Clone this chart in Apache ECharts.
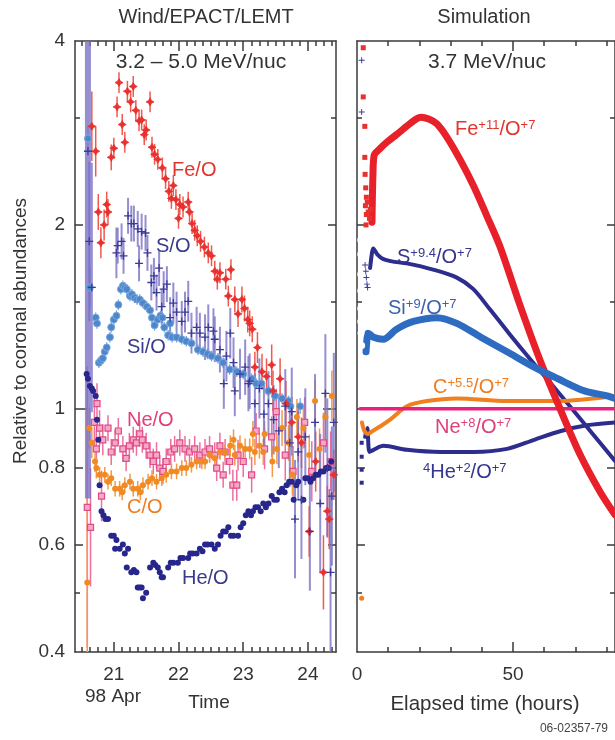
<!DOCTYPE html>
<html><head><meta charset="utf-8">
<script src="https://cdn.jsdelivr.net/npm/echarts@6/dist/echarts.min.js"></script>
<style>html,body{margin:0;padding:0;background:#fff}#c{width:615px;height:740px}</style>
</head><body><div id="c"></div>
<script>
// ---------- tick labels ----------
const leftDayTicks = [21, 22, 23, 24];
const rightHourLabels = [0, 50];
const rightHourMinor = [10, 20, 30, 40, 60, 70, 80];
const yLabelValues = [0.4, 0.6, 0.8, 1, 2, 4];
const yMidTicks = [0.6, 0.8, 2];
const yMinorTicks = [0.5, 1.5, 3];
const yLongTicks = [1];

// ---------- Wind/EPACT/LEMT data: [day of Apr 1998, ratio, relative error] ----------
const feO = [[20.66,2.90,0.14],[20.72,2.64,0.1],[20.76,2.10,0.07],[20.80,1.87,0.06],[20.85,2.00,0.06],[20.89,2.16,0.05],[20.91,2.10,0.05],[20.96,2.58,0.05],[21.00,2.67,0.04],[21.05,3.12,0.04],[21.08,3.42,0.04],[21.13,2.92,0.04],[21.17,2.73,0.04],[21.21,3.31,0.04],[21.26,3.18,0.04],[21.30,3.37,0.04],[21.34,3.08,0.04],[21.39,2.96,0.04],[21.43,2.97,0.04],[21.47,2.81,0.04],[21.50,2.86,0.04],[21.56,3.18,0.04],[21.59,2.68,0.04],[21.63,2.61,0.04],[21.68,2.56,0.04],[21.75,2.48,0.04],[21.80,2.38,0.04],[21.85,2.27,0.04],[21.89,2.21,0.04],[21.92,2.32,0.04],[21.96,2.20,0.04],[22.00,2.05,0.04],[22.02,2.16,0.04],[22.07,2.14,0.04],[22.15,2.18,0.04],[22.17,2.10,0.04],[22.21,2.01,0.04],[22.25,1.96,0.04],[22.29,1.92,0.04],[22.34,1.88,0.04],[22.40,1.84,0.04],[22.46,1.80,0.04],[22.51,1.78,0.04],[22.56,1.68,0.04],[22.60,1.63,0.04],[22.64,1.67,0.04],[22.73,1.63,0.04],[22.77,1.53,0.04],[22.81,1.69,0.04],[22.87,1.51,0.05],[22.92,1.43,0.05],[22.98,1.51,0.05],[23.02,1.46,0.05],[23.07,1.40,0.05],[23.10,1.38,0.05],[23.14,1.35,0.05],[23.18,1.17,0.06],[23.22,1.26,0.06],[23.29,1.15,0.07],[23.36,1.13,0.07],[23.44,1.18,0.08],[23.46,1.07,0.08],[23.57,1.12,0.08],[23.66,1.02,0.09],[23.75,0.95,0.1],[23.85,0.90,0.1],[23.90,0.88,0.1],[24.02,0.63,0.1],[24.12,0.82,0.12],[24.24,0.54,0.15],[24.30,0.68,0.1],[24.33,0.66,0.12],[24.40,0.78,0.1]];

const sO = [[20.60,2.64,2.7],[20.62,1.88,0.35],[20.66,1.58,0.6],[21.04,1.80,0.1],[21.06,1.85,0.07],[21.12,1.88,0.07],[21.15,1.78,0.07],[21.22,2.07,0.07],[21.27,2.01,0.07],[21.31,2.01,0.07],[21.37,1.97,0.07],[21.39,1.73,0.07],[21.43,1.95,0.07],[21.49,1.94,0.07],[21.52,1.80,0.07],[21.58,1.61,0.07],[21.62,1.65,0.07],[21.66,1.55,0.07],[21.70,1.70,0.07],[21.74,1.47,0.07],[21.77,1.57,0.07],[21.82,1.60,0.07],[21.87,1.41,0.08],[21.92,1.49,0.08],[21.97,1.44,0.08],[22.05,1.39,0.08],[22.10,1.44,0.08],[22.15,1.50,0.08],[22.20,1.33,0.08],[22.28,1.36,0.08],[22.33,1.33,0.08],[22.41,1.31,0.09],[22.46,1.36,0.09],[22.54,1.34,0.09],[22.56,1.30,0.09],[22.64,1.25,0.09],[22.70,1.10,0.1],[22.74,1.22,0.1],[22.80,1.33,0.1],[22.85,1.19,0.1],[22.87,1.07,0.1],[22.95,1.14,0.1],[23.03,1.17,0.11],[23.08,1.10,0.11],[23.10,1.11,0.11],[23.18,1.02,0.12],[23.25,1.08,0.12],[23.32,0.98,0.13],[23.39,1.02,0.13],[23.47,0.96,0.14],[23.55,0.92,0.15],[23.65,1.01,0.15],[23.72,0.88,0.18],[23.75,0.99,0.18],[23.80,0.66,0.25],[23.85,0.85,0.2],[23.90,0.71,0.25],[23.96,0.90,0.2],[24.03,0.63,0.25],[24.11,0.95,0.2],[24.19,0.70,0.3],[24.27,1.06,0.25],[24.30,0.80,0.3],[24.35,0.54,0.35],[24.37,0.72,0.3],[24.40,0.95,0.3]];

const siO = [[20.60,2.77,0.05],[20.63,1.58,0.08],[20.72,1.41,0.02],[20.74,1.38,0.02],[20.77,1.19,0.02],[20.80,1.20,0.02],[20.83,1.21,0.02],[20.86,1.24,0.02],[20.89,1.26,0.02],[20.94,1.31,0.02],[20.96,1.36,0.02],[21.00,1.40,0.02],[21.04,1.42,0.02],[21.07,1.48,0.02],[21.11,1.57,0.02],[21.14,1.59,0.02],[21.17,1.58,0.02],[21.20,1.57,0.02],[21.25,1.53,0.02],[21.28,1.54,0.02],[21.32,1.52,0.02],[21.36,1.51,0.02],[21.40,1.51,0.02],[21.45,1.49,0.02],[21.51,1.47,0.02],[21.56,1.45,0.02],[21.59,1.41,0.02],[21.63,1.37,0.02],[21.68,1.40,0.02],[21.72,1.42,0.02],[21.75,1.41,0.02],[21.78,1.36,0.02],[21.84,1.32,0.02],[21.87,1.38,0.02],[21.90,1.31,0.02],[21.97,1.31,0.02],[22.05,1.30,0.02],[22.12,1.29,0.02],[22.20,1.28,0.02],[22.30,1.25,0.02],[22.38,1.24,0.02],[22.45,1.23,0.02],[22.51,1.22,0.02],[22.61,1.21,0.02],[22.69,1.19,0.02],[22.79,1.16,0.02],[22.90,1.15,0.02],[23.00,1.14,0.02],[23.13,1.12,0.02],[23.20,1.10,0.02],[23.28,1.10,0.02],[23.39,1.07,0.02],[23.49,1.05,0.02],[23.60,1.04,0.02],[23.70,1.03,0.02],[23.73,1.01,0.02],[23.88,1.01,0.03]];

const neO = [[20.59,0.69,0.7],[20.64,0.64,0.25],[20.70,0.95,0.1],[20.73,0.86,0.08],[20.74,1.02,0.08],[20.78,0.93,0.07],[20.81,0.72,0.1],[20.83,0.89,0.06],[20.91,0.93,0.05],[20.96,0.85,0.05],[21.02,0.88,0.05],[21.07,0.92,0.05],[21.14,0.86,0.05],[21.19,0.83,0.05],[21.24,0.87,0.05],[21.30,0.89,0.05],[21.35,0.88,0.05],[21.40,0.91,0.05],[21.44,0.89,0.05],[21.50,0.87,0.05],[21.56,0.84,0.05],[21.61,0.82,0.05],[21.66,0.84,0.05],[21.71,0.80,0.05],[21.76,0.79,0.05],[21.81,0.82,0.05],[21.88,0.85,0.05],[21.94,0.86,0.05],[22.02,0.88,0.05],[22.10,0.86,0.05],[22.17,0.85,0.05],[22.25,0.86,0.05],[22.33,0.84,0.05],[22.41,0.85,0.05],[22.48,0.86,0.05],[22.56,0.84,0.05],[22.59,0.80,0.05],[22.64,0.87,0.05],[22.69,0.78,0.05],[22.72,0.85,0.05],[22.79,0.82,0.05],[22.84,0.75,0.06],[22.90,0.75,0.06],[22.92,0.84,0.06],[23.00,0.82,0.06],[23.13,0.78,0.07],[23.20,0.92,0.07],[23.33,0.86,0.08],[23.44,0.90,0.08],[23.51,0.99,0.09],[23.65,0.84,0.1],[23.77,0.79,0.1],[23.95,0.95,0.1],[24.06,0.79,0.12],[24.24,0.88,0.12],[24.35,0.82,0.12]];

const cO = [[20.59,0.52,0.9],[20.62,0.93,0.08],[20.66,0.88,0.06],[20.71,0.82,0.04],[20.73,0.80,0.04],[20.78,0.78,0.03],[20.86,0.78,0.03],[20.91,0.76,0.03],[20.96,0.77,0.03],[21.02,0.74,0.03],[21.09,0.74,0.03],[21.13,0.73,0.03],[21.17,0.75,0.03],[21.25,0.76,0.03],[21.30,0.74,0.03],[21.37,0.74,0.03],[21.41,0.73,0.03],[21.45,0.75,0.03],[21.53,0.76,0.03],[21.59,0.77,0.03],[21.66,0.76,0.03],[21.74,0.77,0.03],[21.81,0.78,0.03],[21.89,0.79,0.03],[21.97,0.79,0.03],[22.05,0.80,0.03],[22.12,0.80,0.03],[22.20,0.81,0.03],[22.28,0.82,0.03],[22.36,0.82,0.03],[22.41,0.82,0.03],[22.48,0.84,0.03],[22.56,0.83,0.03],[22.64,0.85,0.03],[22.72,0.85,0.03],[22.80,0.87,0.04],[22.85,0.89,0.04],[22.87,0.84,0.04],[22.95,0.87,0.04],[23.03,0.86,0.04],[23.10,0.86,0.04],[23.15,0.91,0.05],[23.18,0.85,0.05],[23.25,0.87,0.05],[23.31,0.85,0.05],[23.33,0.91,0.05],[23.45,0.82,0.06],[23.52,0.86,0.06],[23.60,0.93,0.07],[23.70,0.88,0.07],[23.76,0.78,0.08],[23.83,0.97,0.07],[23.93,0.93,0.08],[24.02,0.84,0.08],[24.11,1.03,0.08],[24.18,0.86,0.08],[24.27,0.97,0.1],[24.37,1.05,0.1]];

const heO = [[20.58,1.14],[20.60,1.12],[20.63,1.09],[20.66,1.08],[20.68,1.07],[20.72,1.05],[20.74,0.96],[20.76,0.89],[20.78,0.75],[20.81,0.68],[20.84,0.67],[20.87,0.66],[20.91,0.66],[20.96,0.62],[21.00,0.62],[21.04,0.61],[21.02,0.59],[21.09,0.59],[21.14,0.60],[21.17,0.58],[21.22,0.59],[21.20,0.55],[21.27,0.54],[21.31,0.545],[21.35,0.54],[21.37,0.51],[21.40,0.51],[21.43,0.51],[21.45,0.49],[21.50,0.50],[21.56,0.55],[21.61,0.56],[21.64,0.555],[21.68,0.55],[21.71,0.54],[21.74,0.53],[21.76,0.53],[21.84,0.55],[21.88,0.56],[21.92,0.56],[21.99,0.56],[22.03,0.57],[22.07,0.57],[22.15,0.57],[22.18,0.58],[22.22,0.58],[22.28,0.58],[22.33,0.59],[22.37,0.585],[22.41,0.60],[22.45,0.60],[22.51,0.60],[22.56,0.59],[22.61,0.60],[22.65,0.62],[22.69,0.63],[22.73,0.63],[22.77,0.64],[22.81,0.62],[22.85,0.62],[22.92,0.62],[22.96,0.64],[23.00,0.65],[23.04,0.67],[23.08,0.68],[23.12,0.67],[23.15,0.68],[23.19,0.69],[23.23,0.69],[23.27,0.68],[23.31,0.70],[23.35,0.69],[23.39,0.70],[23.44,0.72],[23.48,0.71],[23.52,0.71],[23.56,0.73],[23.60,0.74],[23.64,0.73],[23.67,0.75],[23.71,0.76],[23.75,0.76],[23.78,0.71],[23.82,0.75],[23.85,0.76],[23.93,0.71],[23.96,0.77],[24.00,0.77],[24.04,0.76],[24.08,0.77],[24.12,0.78],[24.16,0.78],[24.20,0.79],[24.24,0.79],[24.28,0.80],[24.32,0.80],[24.36,0.82]];

// ---------- Simulation data: [elapsed hours, ratio] ----------
const simFe = [[4.8,2.02],[5.1,2.40],[5.5,2.60],[7.5,2.67],[9.5,2.73],[13,2.82],[15.9,2.90],[18.5,2.97],[20.5,3.0],[23,2.98],[25.5,2.93],[28.7,2.79],[33.0,2.56],[37.3,2.32],[41.6,2.07],[45.8,1.845],[52.2,1.48],[58.7,1.20],[65.1,1.0],[71.5,0.842],[77.9,0.732],[82.7,0.671]];
const simS = [[4.2,1.70],[4.8,1.80],[5.2,1.83],[6.5,1.79],[8.3,1.76],[12,1.74],[15.9,1.73],[24.4,1.69],[32.0,1.64],[37.3,1.57],[42.6,1.455],[49.0,1.324],[55.4,1.208],[61.9,1.104],[68.3,1.009],[74.7,0.921],[82.7,0.822]];
const simSi = [[2.9,1.24],[3.2,1.30],[3.6,1.33],[5.3,1.31],[8.4,1.30],[12.7,1.35],[18.1,1.39],[25.6,1.41],[32,1.38],[39.7,1.31],[48.1,1.24],[56.8,1.17],[64.4,1.12],[72.9,1.07],[80.2,1.05],[82.7,1.04]];
const simC = [[1.6,0.95],[2.4,0.92],[3.5,0.91],[5,0.92],[8,0.94],[10.6,0.96],[16,1.01],[22.4,1.03],[32,1.04],[48.1,1.03],[64.4,1.03],[82.7,1.05]];
const simNe = [[1,1.0],[82.7,1.0]];
const simHe = [[2.6,0.90],[3.3,0.93],[4.0,0.85],[5.3,0.857],[8.5,0.87],[16,0.857],[26.8,0.85],[37.5,0.85],[48.1,0.86],[56.8,0.89],[65.4,0.92],[73.7,0.94],[82.7,0.95]];
const simEarlyFe = [[2.0,3.9],[2.0,3.24],[2.5,2.90],[2.5,2.58],[2.6,2.42],[2.8,2.30],[3.0,2.22],[2.7,2.15],[3.3,2.18],[3.0,2.08],[3.6,2.10],[4.0,2.05],[2.9,2.0],[4.3,2.12]];
const simEarlyS = [[1.5,3.72],[1.5,3.06],[2.6,1.72],[2.8,1.68],[3.0,1.64],[3.2,1.60],[3.4,1.58]];
const simEarlySi = [[1.2,1.89],[1.2,1.79],[1.2,1.66],[1.2,1.56],[1.2,1.46],[1.2,1.39],[1.3,1.33],[1.5,1.27]];
const simEarlyHe = [[1.5,0.88],[1.5,0.835],[1.5,0.795],[1.5,0.757]];
const simEarlyC = [[1.5,0.49]];

// ---------- helpers ----------
const FONT = '"Liberation Sans", Arial, Helvetica, sans-serif';
const L = v => Math.log10(v);
const YMIN = L(0.4), YMAX = L(4);
const clampL = v => Math.min(YMAX, Math.max(YMIN, L(v)));
const AX = {color: '#3a3a3a', width: 1.5};
const leftMinor = [];
for (let t = 20.5; t < 24.43; t += 0.125) if (Math.abs(t - Math.round(t)) > 1e-6) leftMinor.push(t);

function xAx(grid, pos, min, max, ticks, len, labels, line) {
  return {type: 'value', gridIndex: grid, position: pos, min: min, max: max,
    axisLine: {show: line, onZero: false, lineStyle: AX},
    axisTick: {show: true, inside: true, length: len, customValues: ticks, lineStyle: AX},
    axisLabel: labels ? {show: true, customValues: labels, margin: 13, fontSize: 19, color: '#333', fontFamily: FONT} : {show: false},
    splitLine: {show: false}};
}
function yAx(grid, pos, ticks, len, labels, line) {
  return {type: 'value', gridIndex: grid, position: pos, min: YMIN, max: YMAX,
    axisLine: {show: line, onZero: false, lineStyle: AX},
    axisTick: {show: true, inside: true, length: len, customValues: ticks.map(L), lineStyle: AX},
    axisLabel: labels ? {show: true, customValues: labels.map(L), margin: 10, fontSize: 19, color: '#333', fontFamily: FONT,
      formatter: v => String(Math.round(Math.pow(10, v) * 10) / 10)} : {show: false},
    splitLine: {show: false}};
}
const LX0 = 20.40, LX1 = 24.434, RX1 = 82.7;
const xAxes = [
  xAx(0, 'bottom', LX0, LX1, leftMinor, 5, leftDayTicks, true),
  xAx(0, 'bottom', LX0, LX1, leftDayTicks, 10, null, false),
  xAx(0, 'top', LX0, LX1, leftMinor, 5, null, true),
  xAx(0, 'top', LX0, LX1, leftDayTicks, 10, null, false),
  xAx(1, 'bottom', 0, RX1, rightHourMinor, 5, rightHourLabels, true),
  xAx(1, 'bottom', 0, RX1, [50], 10, null, false),
  xAx(1, 'top', 0, RX1, rightHourMinor, 5, null, true),
  xAx(1, 'top', 0, RX1, [50], 10, null, false)
];
const yAxes = [];
[0, 1].forEach(g => ['left', 'right'].forEach(p => {
  yAxes.push(yAx(g, p, yMinorTicks, 5, (g === 0 && p === 'left') ? yLabelValues : null, true));
  yAxes.push(yAx(g, p, yMidTicks, 8, null, false));
  yAxes.push(yAx(g, p, yLongTicks, 13, null, false));
}));
// yAxis index: grid0 left = 0, grid1 left = 6

function errBars(data, color, width, xi, yi, z) {
  return {type: 'custom', xAxisIndex: xi, yAxisIndex: yi, z: z, silent: true, clip: true,
    data: data.map(d => [d[0], clampL(d[1] / (1 + d[2])), clampL(d[1] * (1 + d[2])), d[2]]),
    encode: {x: 0, y: [1, 2]},
    renderItem: (p, api) => {
      const a = api.coord([api.value(0), api.value(1)]);
      const b = api.coord([api.value(0), api.value(2)]);
      const w = api.value(3) > 1 ? width * 3 : width;
      return {type: 'line', shape: {x1: a[0], y1: a[1], x2: b[0], y2: b[1]}, style: {stroke: color, lineWidth: w}};
    }};
}
function pts(data, symbol, size, color, border, bw, xi, yi, z) {
  return {type: 'scatter', xAxisIndex: xi, yAxisIndex: yi, z: z, silent: true, symbol: symbol, symbolSize: size,
    itemStyle: {color: color, borderColor: border || color, borderWidth: bw || 0, opacity: 1},
    data: data.map(d => [d[0], L(d[1])])};
}
function curve(data, color, width, z) {
  return {type: 'line', xAxisIndex: 4, yAxisIndex: 6, z: z, silent: true, smooth: 0.3,
    showSymbol: false, symbol: 'none', lineStyle: {color: color, width: width, cap: 'round', join: 'round'},
    data: data.map(d => [d[0], L(d[1])])};
}
const STAR = 'path://M0,-10L3.5,-3.5L10,0L3.5,3.5L0,10L-3.5,3.5L-10,0L-3.5,-3.5Z';
const PLUS = 'path://M-10,-1.6H10V1.6H-10Z M-1.6,-10H1.6V10H-1.6Z';

const series = [
  errBars(neO, '#ec6f9d', 1.5, 0, 0, 2),
  errBars(cO, '#f49a45', 1.5, 0, 0, 2),
  errBars(feO, '#ee5a4e', 1.5, 0, 0, 2),
  errBars(sO, 'rgba(122,114,198,0.8)', 2, 0, 0, 3),
  errBars(siO, '#6f9fd8', 1.2, 0, 0, 2),
  pts(neO, 'rect', 6, '#f6a9c7', '#e04a86', 1.2, 0, 0, 4),
  pts(cO, 'circle', 6, '#f08a22', null, 0, 0, 0, 4),
  pts(siO, 'circle', 7, '#4c86cc', '#7aa7dc', 1, 0, 0, 4),
  pts(heO, 'circle', 6, '#26268c', null, 0, 0, 0, 5),
  pts(feO, STAR, 8, '#e8302e', '#e8302e', 0.8, 0, 0, 5),
  pts(sO, PLUS, 8, '#3a3a98', null, 0, 0, 0, 6),
  curve(simS, '#2d2d8e', 4, 3),
  curve(simHe, '#2d2d8e', 4, 3),
  curve(simC, '#f0801e', 4, 3),
  curve(simNe, '#e8207e', 3.5, 4),
  curve(simFe, '#e8202a', 7, 5),
  curve(simSi, '#2d6cc0', 7, 6),
  pts(simEarlyFe, 'rect', 5, '#e8302e', null, 0, 4, 6, 7),
  pts(simEarlyS, PLUS, 6, '#3a3a98', null, 0, 4, 6, 7),
  pts(simEarlySi, 'emptyCircle', 5, '#fff', '#3d7ec6', 1, 4, 6, 7),
  pts(simEarlyHe, 'rect', 4, '#2d2d8e', null, 0, 4, 6, 7),
  pts(simEarlyC, 'circle', 5, '#f0801e', null, 0, 4, 6, 7)
];

function txt(x, y, text, size, color, align) {
  return {type: 'text', x: x, y: y, silent: true, z: 100,
    style: {text: text, fill: color || '#333', font: (size || 20) + 'px ' + FONT, align: align || 'center', verticalAlign: 'middle'}};
}
function rtxt(x, y, parts, color) {
  let s = '';
  parts.forEach(p => { s += '{' + (p[1] ? 's' : 'n') + '|' + p[0] + '}'; });
  return {type: 'text', x: x, y: y, silent: true, z: 100,
    style: {text: s, align: 'left', verticalAlign: 'middle', fill: color,
      rich: {n: {fontSize: 20, fontFamily: FONT, fill: color}, s: {fontSize: 13, fontFamily: FONT, fill: color, verticalAlign: 'top'}}}};
}
const graphics = [
  txt(206, 17, 'Wind/EPACT/LEMT'),
  txt(484, 17, 'Simulation'),
  txt(201, 62, '3.2 \u2013 5.0 MeV/nuc', 21),
  txt(487, 62, '3.7 MeV/nuc', 21),
  Object.assign(txt(21, 331, 'Relative to coronal abundances', 19), {rotation: Math.PI / 2}),
  txt(113, 697, '98 Apr', 19),
  txt(209, 703, 'Time', 19),
  txt(485, 704, 'Elapsed time (hours)', 20.5),
  txt(608, 729, '06-02357-79', 12, '#444', 'right'),
  txt(172, 170, 'Fe/O', 20, '#e0342c', 'left'),
  txt(156, 246, 'S/O', 20, '#3a3a8c', 'left'),
  txt(127, 347, 'Si/O', 20, '#3a3a8c', 'left'),
  txt(127, 420, 'Ne/O', 20, '#e0407a', 'left'),
  txt(127, 507, 'C/O', 20, '#ee7d22', 'left'),
  txt(182, 578, 'He/O', 20, '#3a3a8c', 'left'),
  rtxt(455, 129, [['Fe', 0], ['+11', 1], ['/O', 0], ['+7', 1]], '#e0342c'),
  rtxt(397, 257, [['S', 0], ['+9.4', 1], ['/O', 0], ['+7', 1]], '#35358f'),
  rtxt(388, 308, [['Si', 0], ['+9', 1], ['/O', 0], ['+7', 1]], '#3b62b0'),
  rtxt(433, 387, [['C', 0], ['+5.5', 1], ['/O', 0], ['+7', 1]], '#ee7d22'),
  rtxt(435, 427, [['Ne', 0], ['+8', 1], ['/O', 0], ['+7', 1]], '#e0407a'),
  rtxt(423, 472, [['4', 1], ['He', 0], ['+2', 1], ['/O', 0], ['+7', 1]], '#35358f')
];

const chart = echarts.init(document.getElementById('c'), null, {renderer: 'canvas'});
chart.setOption({
  animation: false,
  backgroundColor: '#fff',
  textStyle: {fontFamily: FONT},
  grid: [
    {left: 75, top: 41, width: 261, height: 611},
    {left: 357, top: 41, width: 258, height: 611}
  ],
  xAxis: xAxes,
  yAxis: yAxes,
  series: series,
  graphic: graphics
});
</script>
</body></html>
